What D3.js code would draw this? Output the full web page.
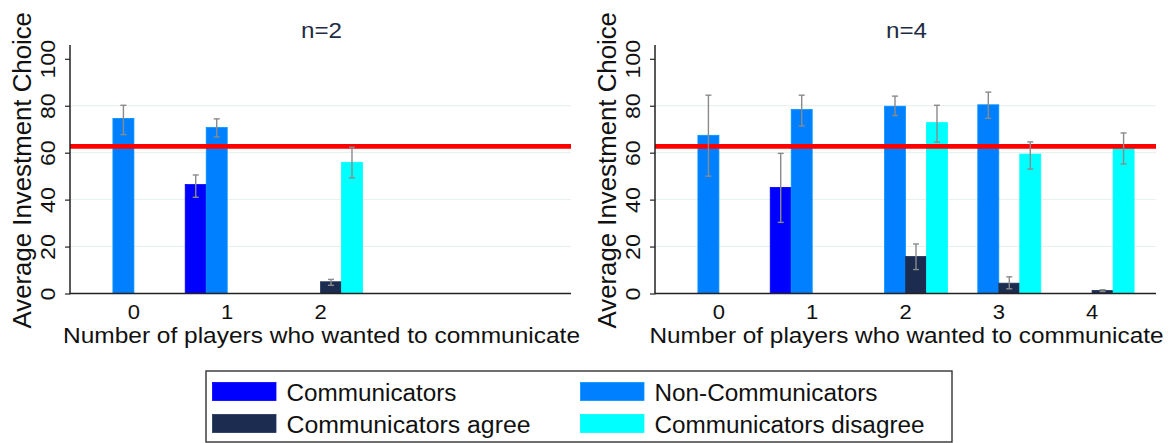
<!DOCTYPE html>
<html>
<head>
<meta charset="utf-8">
<script src="https://cdn.jsdelivr.net/npm/d3@7/dist/d3.min.js"></script>
<style>
  html, body { margin: 0; padding: 0; background: #fff; }
  svg { display: block; }
  text { font-family: "Liberation Sans", Arial, Helvetica, sans-serif; }
</style>
</head>
<body>
<svg id="chart" width="1176" height="443"></svg>
<script>
// ---------------- DATA ----------------
const slots = [0, 1, 2, 3, 4];                 // category slots on each x axis
const seriesNames = ["Communicators", "Non-Communicators", "Communicators agree", "Communicators disagree"];
const seriesColors = ["#0000ff", "#0080ff", "#1c2c50", "#00ffff"];
const yTicks = [0, 20, 40, 60, 80, 100];
const gridTicks = [20, 40, 60, 80];
const benchmark = 62.7;

// n=2 panel
const n2Labels = ["0", "1", "2"];
const n2Comm      = [null, 46.4, null];
const n2NonComm   = [74.6, 70.7, null];
const n2Agree     = [null, null, 5.0];
const n2Disagree  = [null, null, 55.9];
const n2CommLo    = [null, 41.0, null], n2CommHi    = [null, 50.5, null];
const n2NonCommLo = [67.7, 66.7, null], n2NonCommHi = [80.2, 74.4, null];
const n2AgreeLo   = [null, null, 3.5],  n2AgreeHi   = [null, null, 6.0];
const n2DisLo     = [null, null, 49.3], n2DisHi     = [null, null, 62.3];

// n=4 panel
const n4Labels = ["0", "1", "2", "3", "4"];
const n4Comm      = [null, 45.2, null, null, null];
const n4NonComm   = [67.4, 78.4, 79.8, 80.4, null];
const n4Agree     = [null, null, 15.8, 4.4, 1.3];
const n4Disagree  = [null, null, 72.8, 59.4, 62.0];
const n4CommLo    = [null, 30.3, null, null, null], n4CommHi    = [null, 59.7, null, null, null];
const n4NonCommLo = [50.0, 71.4, 75.8, 74.7, null], n4NonCommHi = [84.5, 84.5, 84.1, 85.8, null];
const n4AgreeLo   = [null, null, 10.2, 2.0, 0.8],   n4AgreeHi   = [null, null, 21.1, 7.1, 1.6];
const n4DisLo     = [null, null, 64.5, 53.0, 55.2], n4DisHi     = [null, null, 80.2, 64.6, 68.4];

// ---------------- BUILD ----------------
const svg = d3.select("#chart");
const FONT_COLOR = "#111";

function stretchText(sel, factor) {
  sel.each(function () {
    const len = this.getComputedTextLength();
    d3.select(this).attr("textLength", len * factor).attr("lengthAdjust", "spacingAndGlyphs");
  });
}

function panel(opts) {
  const { x0, x1, title, labels, values, los, his, xTitleLen } = opts;
  const yTop = 45, y0 = 293.5, y100 = 58.8;
  const y = d3.scaleLinear().domain([0, 100]).range([y0, y100]);
  const x = d3.scaleBand().domain(slots).range([x0, x1]).paddingInner(0.1).paddingOuter(0.235);
  const xs = d3.scaleBand().domain(d3.range(seriesNames.length)).range([0, x.bandwidth()]).padding(0);
  const g = svg.append("g");

  // gridlines
  g.selectAll("line.grid").data(gridTicks).join("line")
    .attr("x1", x0).attr("x2", x1)
    .attr("y1", d => y(d)).attr("y2", d => y(d))
    .attr("stroke", "#e6efef").attr("stroke-width", 1);

  // bars
  const bars = [];
  values.forEach((arr, si) => arr.forEach((v, ci) => {
    if (v != null) bars.push({ si, ci, v, lo: los[si][ci], hi: his[si][ci] });
  }));
  g.selectAll("rect.bar").data(bars).join("rect")
    .attr("x", d => x(slots[d.ci]) + xs(d.si))
    .attr("width", xs.bandwidth())
    .attr("y", d => y(d.v))
    .attr("height", d => y(0) - y(d.v))
    .attr("fill", d => seriesColors[d.si])
    .attr("stroke", d => d3.color(seriesColors[d.si]).brighter(0.4))
    .attr("stroke-width", 0.8);

  // red benchmark line
  g.append("line")
    .attr("x1", x0).attr("x2", x1)
    .attr("y1", y(benchmark)).attr("y2", y(benchmark))
    .attr("stroke", "#ff0000").attr("stroke-width", 4.8);

  // error bars
  const eb = g.selectAll("g.eb").data(bars.filter(d => d.lo != null)).join("g")
    .attr("stroke", "#8a8a8a").attr("stroke-width", 1.4);
  const cx = d => x(slots[d.ci]) + xs(d.si) + xs.bandwidth() / 2;
  eb.append("line").attr("x1", cx).attr("x2", cx).attr("y1", d => y(d.lo)).attr("y2", d => y(d.hi));
  eb.append("line").attr("x1", d => cx(d) - 3).attr("x2", d => cx(d) + 3).attr("y1", d => y(d.lo)).attr("y2", d => y(d.lo));
  eb.append("line").attr("x1", d => cx(d) - 3).attr("x2", d => cx(d) + 3).attr("y1", d => y(d.hi)).attr("y2", d => y(d.hi));

  // y axis
  const yAxis = d3.axisLeft(y).tickValues(yTicks).tickSize(5).tickPadding(0).tickFormat(d3.format("d"));
  const ya = g.append("g").attr("transform", `translate(${x0},0)`).call(yAxis);
  ya.select(".domain").remove();
  ya.selectAll(".tick line").attr("stroke", "#222").attr("stroke-width", 1.2);
  ya.selectAll(".tick text")
    .attr("x", null).attr("dy", null)
    .attr("transform", "translate(-15,0) rotate(-90)")
    .attr("text-anchor", "middle")
    .attr("fill", FONT_COLOR)
    .style("font-size", "21px");
  stretchText(ya.selectAll(".tick text"), 1.1);
  g.append("line").attr("x1", x0).attr("x2", x0).attr("y1", yTop).attr("y2", y0 + 0.7)
    .attr("stroke", "#222").attr("stroke-width", 1.5);

  // x axis
  const xAxis = d3.axisBottom(x).tickSize(0).tickPadding(0)
    .tickFormat(d => labels[d] != null ? labels[d] : "");
  const xa = g.append("g").attr("transform", `translate(0,${y0})`).call(xAxis);
  xa.select(".domain").remove();
  xa.selectAll(".tick text").attr("y", 25.8).attr("dy", null)
    .attr("fill", FONT_COLOR).style("font-size", "20px");
  stretchText(xa.selectAll(".tick text"), 1.1);
  g.append("line").attr("x1", x0).attr("x2", x1).attr("y1", y0).attr("y2", y0)
    .attr("stroke", "#222").attr("stroke-width", 1.5);

  // titles
  const mid = (x0 + x1) / 2;
  const t = g.append("text").attr("x", mid + 1).attr("y", 38.3).attr("text-anchor", "middle")
    .attr("fill", "#1e2b45").style("font-size", "22px").text(title);
  stretchText(t, 1.1);
  g.append("text").attr("x", mid + 1).attr("y", 343.3).attr("text-anchor", "middle")
    .attr("fill", FONT_COLOR).style("font-size", "22.5px")
    .attr("textLength", xTitleLen).attr("lengthAdjust", "spacingAndGlyphs")
    .text("Number of players who wanted to communicate");
  g.append("text")
    .attr("transform", `translate(${x0 - 39},${(yTop + y0) / 2 + 1}) rotate(-90)`)
    .attr("text-anchor", "middle").attr("fill", FONT_COLOR).style("font-size", "25.8px")
    .text("Average Investment Choice");
}

panel({
  x0: 70, x1: 571, title: "n=2", labels: n2Labels, xTitleLen: 517,
  values: [n2Comm, n2NonComm, n2Agree, n2Disagree],
  los: [n2CommLo, n2NonCommLo, n2AgreeLo, n2DisLo],
  his: [n2CommHi, n2NonCommHi, n2AgreeHi, n2DisHi]
});
panel({
  x0: 655, x1: 1156, title: "n=4", labels: n4Labels, xTitleLen: 514,
  values: [n4Comm, n4NonComm, n4Agree, n4Disagree],
  los: [n4CommLo, n4NonCommLo, n4AgreeLo, n4DisLo],
  his: [n4CommHi, n4NonCommHi, n4AgreeHi, n4DisHi]
});

// ---------------- LEGEND ----------------
const lg = svg.append("g");
lg.append("rect").attr("x", 206).attr("y", 371).attr("width", 746).attr("height", 71)
  .attr("fill", "#fff").attr("stroke", "#333").attr("stroke-width", 1.4);
const legendCols = [212.5, 580.5];
const legendRows = [382.5, 414.5];
const legendTextLens = [170, 223, 244, 270];
seriesNames.forEach((name, i) => {
  const col = i % 2, row = Math.floor(i / 2);
  lg.append("rect").attr("x", legendCols[col]).attr("y", legendRows[row])
    .attr("width", 63.5).attr("height", 18)
    .attr("fill", seriesColors[i]).attr("stroke", d3.color(seriesColors[i]).brighter(0.4)).attr("stroke-width", 0.8);
  lg.append("text").attr("x", legendCols[col] + 74).attr("y", legendRows[row] + 18.5)
    .attr("fill", FONT_COLOR).style("font-size", "23px")
    .attr("textLength", legendTextLens[i]).attr("lengthAdjust", "spacingAndGlyphs")
    .text(name);
});
</script>
</body>
</html>
